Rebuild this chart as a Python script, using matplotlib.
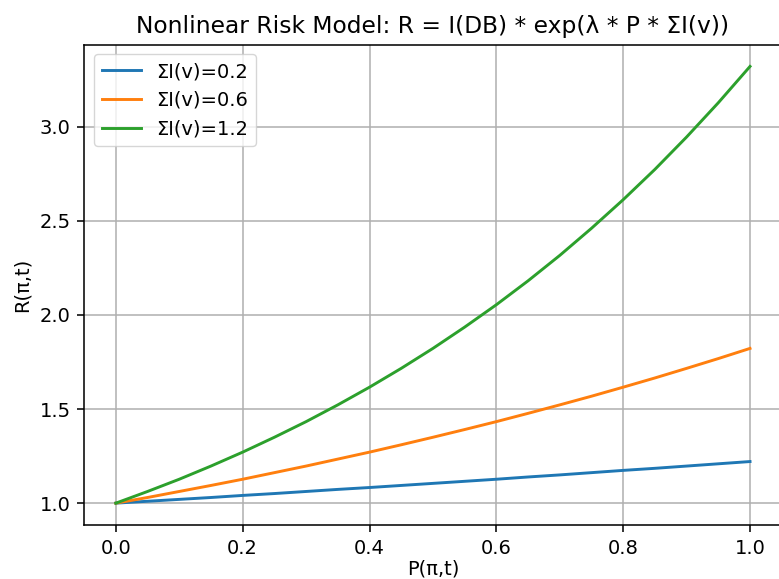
import matplotlib
matplotlib.use("Agg")
import matplotlib.pyplot as plt

# values
p_values = [0.00, 0.05, 0.10, 0.15, 0.20, 0.25, 0.30, 0.35, 0.40, 0.45, 0.50,
            0.55, 0.60, 0.65, 0.70, 0.75, 0.80, 0.85, 0.90, 0.95, 1.00]
r_sum_02 = [1.000, 1.010, 1.020, 1.030, 1.041, 1.051, 1.062, 1.073, 1.083, 1.094, 1.105,
            1.116, 1.127, 1.139, 1.150, 1.162, 1.174, 1.185, 1.197, 1.209, 1.221]
r_sum_06 = [1.000, 1.030, 1.062, 1.094, 1.127, 1.162, 1.197, 1.234, 1.271, 1.310, 1.350,
            1.391, 1.433, 1.477, 1.522, 1.568, 1.616, 1.665, 1.716, 1.768, 1.822]
r_sum_12 = [1.000, 1.062, 1.127, 1.197, 1.271, 1.350, 1.433, 1.522, 1.616, 1.716, 1.822,
            1.935, 2.054, 2.181, 2.316, 2.460, 2.612, 2.773, 2.945, 3.127, 3.320]
labels = ["ΣI(v)=0.2", "ΣI(v)=0.6", "ΣI(v)=1.2"]

s = 1.4  # reference looks like an enlarged default figure
plt.rcParams.update({
    "font.size": 10 * s,
    "axes.titlesize": 12 * s,
    "axes.linewidth": 0.8 * s,
    "lines.linewidth": 1.5 * s,
    "grid.linewidth": 0.8 * s,
    "xtick.major.size": 3.5 * s,
    "ytick.major.size": 3.5 * s,
    "xtick.major.width": 0.8 * s,
    "ytick.major.width": 0.8 * s,
    "xtick.major.pad": 3.5 * s,
    "ytick.major.pad": 3.5 * s,
    "axes.titlepad": 6 * s,
    "axes.labelpad": 4 * s,
})

fig, ax = plt.subplots(figsize=(7.79, 5.79), dpi=100)
fig.subplots_adjust(left=0.108, right=1.0035, top=0.923, bottom=0.0933)

for series, label in zip([r_sum_02, r_sum_06, r_sum_12], labels):
    ax.plot(p_values, series, label=label)

ax.set_title("Nonlinear Risk Model: R = I(DB) * exp(λ * P * ΣI(v))")
ax.set_xlabel("P(π,t)", labelpad=1.5)
ax.set_ylabel("R(π,t)")
ax.legend(loc="upper left")
ax.grid(True)

fig.savefig("out.png", dpi=100)
